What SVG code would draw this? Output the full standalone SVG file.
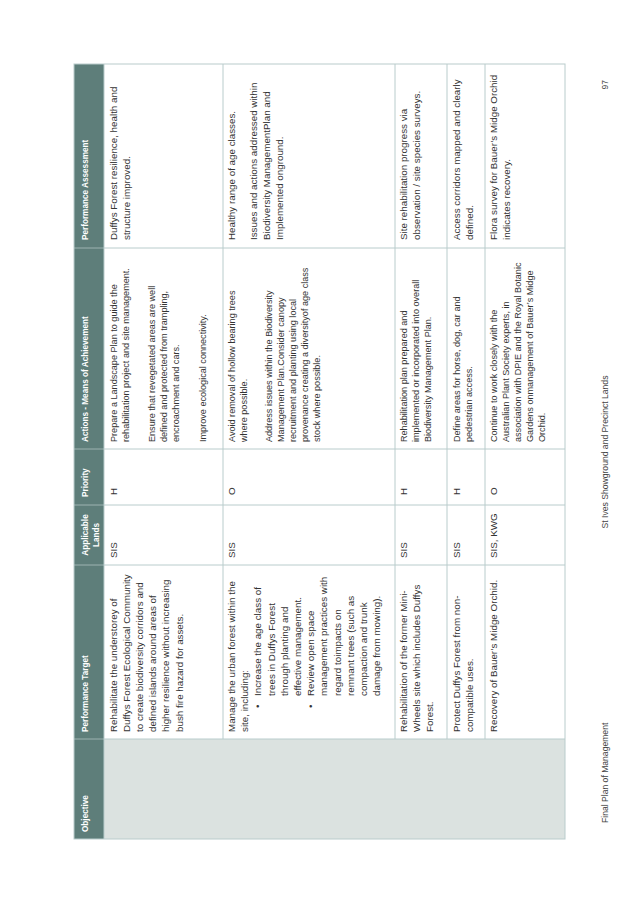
<svg xmlns="http://www.w3.org/2000/svg" width="638" height="900" viewBox="0 0 638 900">
<style>
.b{font-family:"Liberation Sans",Arial,sans-serif;font-size:9.8px;fill:#333}
.a{font-family:"Liberation Sans",Arial,sans-serif;font-size:9.1px;fill:#333}
.h{font-family:"Liberation Sans",Arial,sans-serif;font-size:8.2px;font-weight:bold;fill:#fff}
.f{font-family:"Liberation Sans",Arial,sans-serif;font-size:8.6px;fill:#444}
.g{stroke:#b9cccc;stroke-width:1;fill:none}
.gh{stroke:#9db3b1;stroke-width:1;fill:none}
</style>
<rect width="638" height="900" fill="#fff"/>
<g transform="translate(0,900) rotate(-90)">
  <g id="table-bg">
    <rect x="61" y="74" width="775" height="30" fill="#5e7e7a"/>
    <rect x="61" y="104" width="100" height="461" fill="#dbe2e0"/>
  </g>
  <g id="grid">
    <path class="gh" d="M161 74V104M335 74V104M395 74V104M451 74V104M652 74V104"/>
    <path class="g" d="M161 104V565M335 104V565M395 104V565M451 104V565M652 104V565"/>
    <path class="g" d="M61 104H836M161 223H836M161 395H836M161 447H836M161 485H836"/>
    <rect class="g" x="61" y="74" width="775" height="491"/>
  </g>
  <g id="header">
    <text class="h" x="68" y="87.5">Objective</text>
    <text class="h" x="168" y="87.5">Performance Target</text>
    <text class="h" text-anchor="middle"><tspan x="365" y="87.5">Applicable</tspan><tspan x="365" y="98.5">Lands</tspan></text>
    <text class="h" x="403" y="87.5">Priority</text>
    <text class="h" x="458" y="87.5">Actions - Means of Achievement</text>
    <text class="h" x="660" y="87.5">Performance Assessment</text>
  </g>
  <g id="row1">
    <text class="b"><tspan x="168" y="116.5">Rehabilitate the understorey of</tspan><tspan x="168" y="129.7">Duffys Forest Ecological Community</tspan><tspan x="168" y="142.9">to create biodiversity corridors and</tspan><tspan x="168" y="156.1">defined islands around areas of</tspan><tspan x="168" y="169.3">higher resilience without increasing</tspan><tspan x="168" y="182.5">bush fire hazard for assets.</tspan></text>
    <text class="b" x="342" y="116.5">SIS</text>
    <text class="b" x="405" y="116.5">H</text>
    <text class="a"><tspan x="458" y="116.5">Prepare a Landscape Plan to guide the</tspan><tspan x="458" y="128.5">rehabilitation project and site management.</tspan><tspan x="458" y="154.5">Ensure that revegetated areas are well</tspan><tspan x="458" y="166.5">defined and protected from trampling,</tspan><tspan x="458" y="178.5">encroachment and cars.</tspan><tspan x="458" y="205.5">Improve ecological connectivity.</tspan></text>
    <text class="b"><tspan x="660" y="116.5">Duffys Forest resilience, health and</tspan><tspan x="660" y="129.7">structure improved.</tspan></text>
  </g>
  <g id="row2">
    <text class="b"><tspan x="168" y="235">Manage the urban forest within the</tspan><tspan x="168" y="248.2">site, including:</tspan></text>
    <text class="b"><tspan x="192" y="261.4">•</tspan><tspan x="192" y="314.2">•</tspan></text>
    <text class="b"><tspan x="204" y="261.4">Increase the age class of</tspan><tspan x="204" y="274.6">trees in Duffys Forest</tspan><tspan x="204" y="287.8">through planting and</tspan><tspan x="204" y="301">effective management.</tspan><tspan x="204" y="314.2">Review open space</tspan><tspan x="204" y="327.4">management practices with</tspan><tspan x="204" y="340.6">regard toimpacts on</tspan><tspan x="204" y="353.8">remnant trees (such as</tspan><tspan x="204" y="367">compaction and trunk</tspan><tspan x="204" y="380.2">damage from mowing).</tspan></text>
    <text class="b" x="342" y="235">SIS</text>
    <text class="b" x="405" y="235">O</text>
    <text class="a"><tspan x="458" y="235">Avoid removal of hollow bearing trees</tspan><tspan x="458" y="247">where possible.</tspan><tspan x="458" y="272">Address issues within the Biodiversity</tspan><tspan x="458" y="284">Management Plan.Consider canopy</tspan><tspan x="458" y="296">recruitment and planting using local</tspan><tspan x="458" y="308">provenance creating a diversityof age class</tspan><tspan x="458" y="320">stock where possible.</tspan></text>
    <text class="b"><tspan x="660" y="235">Healthy range of age classes.</tspan><tspan x="660" y="257">Issues and actions addressed within</tspan><tspan x="660" y="270">Biodiversity ManagementPlan and</tspan><tspan x="660" y="283">Implemented onground.</tspan></text>
  </g>
  <g id="row3">
    <text class="b"><tspan x="168" y="407">Rehabilitation of the former Mini-</tspan><tspan x="168" y="420">Wheels site which includes Duffys</tspan><tspan x="168" y="433">Forest.</tspan></text>
    <text class="b" x="342" y="407">SIS</text>
    <text class="b" x="405" y="407">H</text>
    <text class="a"><tspan x="458" y="407">Rehabilitation plan prepared and</tspan><tspan x="458" y="419">implemented or incorporated into overall</tspan><tspan x="458" y="431">Biodiversity Management Plan.</tspan></text>
    <text class="b"><tspan x="660" y="407">Site rehabilitation progress via</tspan><tspan x="660" y="420">observation / site species surveys.</tspan></text>
  </g>
  <g id="row4">
    <text class="b"><tspan x="168" y="459.5">Protect Duffys Forest from non-</tspan><tspan x="168" y="472.5">compatible uses.</tspan></text>
    <text class="b" x="342" y="459.5">SIS</text>
    <text class="b" x="405" y="459.5">H</text>
    <text class="a"><tspan x="458" y="459.5">Define areas for horse, dog, car and</tspan><tspan x="458" y="471.5">pedestrian access.</tspan></text>
    <text class="b"><tspan x="660" y="459.5">Access corridors mapped and clearly</tspan><tspan x="660" y="472.5">defined.</tspan></text>
  </g>
  <g id="row5">
    <text class="b" x="168" y="497">Recovery of Bauer’s Midge Orchid.</text>
    <text class="b" x="342" y="497">SIS, KWG</text>
    <text class="b" x="405" y="497">O</text>
    <text class="a"><tspan x="458" y="497">Continue to work closely with the</tspan><tspan x="458" y="509">Australian Plant Society experts, in</tspan><tspan x="458" y="521">association with DPIE and the Royal Botanic</tspan><tspan x="458" y="533">Gardens onmanagement of Bauer’s Midge</tspan><tspan x="458" y="545">Orchid.</tspan></text>
    <text class="b"><tspan x="660" y="497">Flora survey for Bauer’s Midge Orchid</tspan><tspan x="660" y="510">indicates recovery.</tspan></text>
  </g>
  <g id="footer">
    <text class="f" x="77" y="607.5">Final Plan of Management</text>
    <text class="f" x="448" y="607.5" text-anchor="middle">St Ives Showground and Precinct Lands</text>
    <text class="f" x="820" y="607.5" text-anchor="end">97</text>
  </g>
</g>
</svg>
